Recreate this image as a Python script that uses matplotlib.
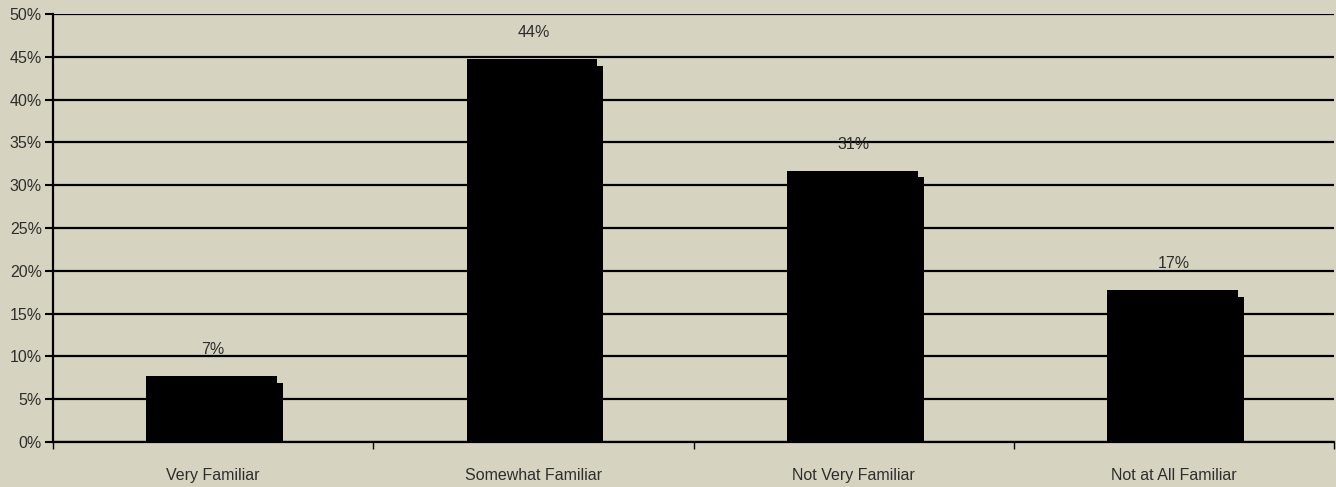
import matplotlib
matplotlib.use("Agg")
import matplotlib.pyplot as plt
import numpy as np

categories = ["Very Familiar", "Somewhat Familiar", "Not Very Familiar", "Not at All Familiar"]
values = [7, 44, 31, 17]
labels = ["7%", "44%", "31%", "17%"]
yticks = [0, 5, 10, 15, 20, 25, 30, 35, 40, 45, 50]

bg = "#d6d4c0"
txt = "#2e2e2e"
plt.rcParams.update({"font.family": ["Liberation Sans", "DejaVu Sans"], "font.size": 11.5})

fig = plt.figure(figsize=(13.36, 4.87), dpi=100, facecolor=bg)
ax = fig.add_axes([53 / 1336, 45 / 487, 1281 / 1336, 428 / 487])
ax.set_facecolor(bg)

x = np.arange(len(categories))
w = 0.427
depth_x = 0.019
shift = 0.005
# side / back face (3D effect) then front face
ax.bar(x + shift, [v - 0.1 for v in values], width=w, color="black", zorder=3)
ax.bar(x + shift - depth_x / 2, [v + 0.7 for v in values], width=w - depth_x, color="black", zorder=4)

for xi, v, lab in zip(x, values, labels):
    ax.text(xi, v + 3.8, lab, ha="center", va="center", fontsize=11.5, color=txt)

ax.set_xlim(-0.5, len(categories) - 0.5)
ax.set_ylim(0, 50)
ax.set_yticks(yticks)
ax.set_yticklabels([f"{t}%" for t in yticks], color=txt)
ax.yaxis.grid(True, color="black", lw=1.6, zorder=1)
ax.set_axisbelow(True)

ax.set_xticks(x)
ax.set_xticklabels(categories, color=txt)
ax.tick_params(axis="x", length=0, pad=19)
ax.set_xticks(np.arange(len(categories) + 1) - 0.5, minor=True)
ax.tick_params(axis="x", which="minor", length=5, width=1, color="black")
ax.tick_params(axis="y", length=6, width=1.5, color="black", pad=2)

for s in ["top", "right"]:
    ax.spines[s].set_visible(False)
ax.spines["left"].set_linewidth(1.6)
ax.spines["bottom"].set_linewidth(1.6)

fig.savefig("out.png", dpi=100, facecolor=bg)
